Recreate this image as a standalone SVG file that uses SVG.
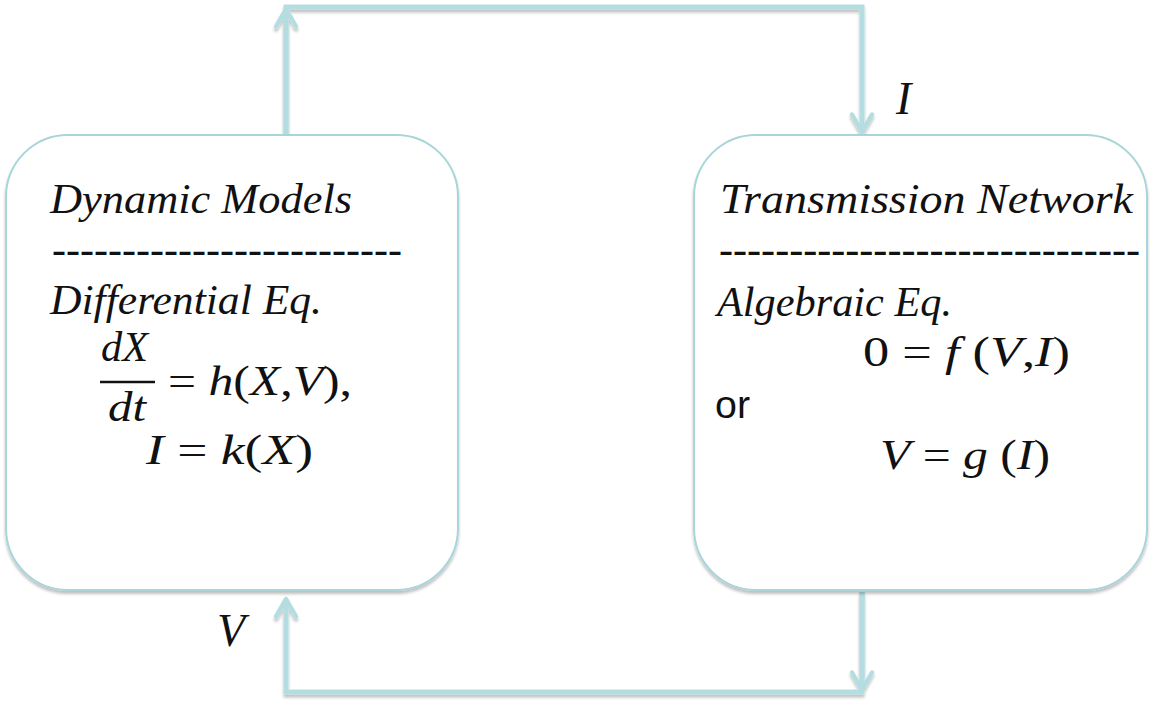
<svg xmlns="http://www.w3.org/2000/svg" width="1150" height="708" viewBox="0 0 1150 708">
<style>
.box{fill:#fff;stroke:#a8d5da;stroke-width:2}
.conn{fill:none;stroke:#b4dde1;stroke-width:5;stroke-linejoin:miter}
.t{font-family:"Liberation Serif",serif;font-style:italic;font-size:42px;fill:#111}
.m{font-family:"Liberation Serif",serif;font-size:42px;fill:#111}
.i{font-style:italic}
.lab{font-family:"Liberation Serif",serif;font-style:italic;font-size:46px;fill:#111}
.s{font-family:"Liberation Sans",Arial,sans-serif;font-size:38px;fill:#111}
</style>
<defs>
<filter id="sh" x="-10%" y="-10%" width="120%" height="130%">
<feGaussianBlur in="SourceAlpha" stdDeviation="1.5"/>
<feOffset dx="0" dy="3" result="b"/>
<feComponentTransfer><feFuncA type="linear" slope="0.25"/></feComponentTransfer>
<feMerge><feMergeNode/><feMergeNode in="SourceGraphic"/></feMerge>
</filter>
<marker id="ah" viewBox="0 0 20 20" refX="17" refY="10" markerWidth="5" markerHeight="5" markerUnits="strokeWidth" orient="auto">
<polyline points="3,2 17,10 3,18" fill="none" stroke="#b4dde1" stroke-width="3.5" stroke-linecap="round" stroke-linejoin="round"/>
</marker>
</defs>
<g id="connectors" filter="url(#sh)">
<polyline class="conn" points="286,135 286,7 862,7 862,132" marker-end="url(#ah)"/>
<polyline class="conn" points="862,592 862,692 286,692 286,599" marker-end="url(#ah)"/>
<path class="conn" d="M286,135 L286,9" marker-end="url(#ah)"/>
<path class="conn" d="M862,592 L862,690" marker-end="url(#ah)"/>
</g>
<g id="labels">
<text class="lab" x="896" y="114">I</text>
<text class="lab" x="217" y="646">V</text>
</g>
<g id="dynamic-models">
<rect class="box" x="6" y="135" width="452" height="455" rx="62" ry="62" filter="url(#sh)"/>
<text class="t" x="50" y="213" textLength="302" lengthAdjust="spacingAndGlyphs">Dynamic Models</text>
<text class="m" x="52" y="263" textLength="350" lengthAdjust="spacingAndGlyphs">-------------------------</text>
<text class="t" x="50" y="314" textLength="272" lengthAdjust="spacingAndGlyphs">Differential Eq.</text>
<text class="t" x="101" y="361" textLength="47" lengthAdjust="spacingAndGlyphs">dX</text>
<line x1="100" y1="382" x2="155" y2="382" stroke="#111" stroke-width="2.5"/>
<text class="t" x="108" y="421" textLength="38" lengthAdjust="spacingAndGlyphs">dt</text>
<text class="m" x="168" y="395" textLength="184" lengthAdjust="spacingAndGlyphs">= <tspan class="i">h</tspan>(<tspan class="i">X</tspan>,<tspan class="i">V</tspan>),</text>
<text class="m" x="146" y="464" textLength="167" lengthAdjust="spacingAndGlyphs"><tspan class="i">I</tspan>  = <tspan class="i">k</tspan>(<tspan class="i">X</tspan>)</text>
</g>
<g id="transmission-network">
<rect class="box" x="694" y="135" width="453" height="455" rx="62" ry="62" filter="url(#sh)"/>
<text class="t" x="720" y="213" textLength="413" lengthAdjust="spacingAndGlyphs">Transmission Network</text>
<text class="m" x="719" y="263" textLength="421" lengthAdjust="spacingAndGlyphs">------------------------------</text>
<text class="t" x="717" y="316" textLength="235" lengthAdjust="spacingAndGlyphs">Algebraic Eq.</text>
<text class="m" x="863" y="366" textLength="207" lengthAdjust="spacingAndGlyphs">0 = <tspan class="i">f</tspan> (<tspan class="i">V</tspan>,<tspan class="i">I</tspan>)</text>
<text class="s" x="715" y="418" textLength="35" lengthAdjust="spacingAndGlyphs">or</text>
<text class="m" x="880" y="469" textLength="170" lengthAdjust="spacingAndGlyphs"><tspan class="i">V</tspan> = <tspan class="i">g</tspan> (<tspan class="i">I</tspan>)</text>
</g>
</svg>
